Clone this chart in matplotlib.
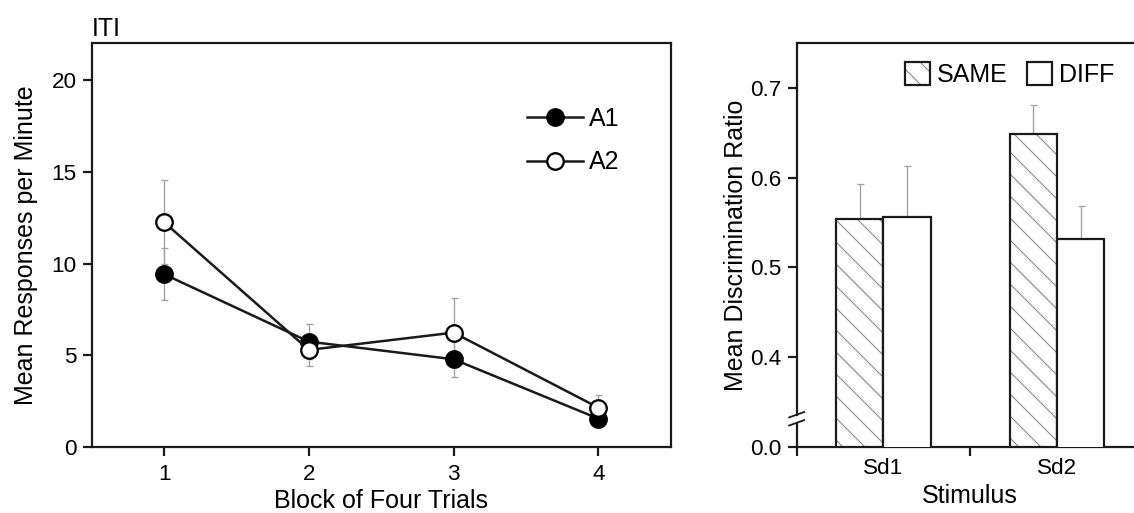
import numpy as np
import matplotlib
matplotlib.use("Agg")
import matplotlib.pyplot as plt
import matplotlib.patches as mpatches
from matplotlib.legend_handler import HandlerTuple

# ---- data ----
blocks = [1, 2, 3, 4]
a1_mean = [9.42, 5.75, 4.79, 1.56]
a1_sem = [1.41, 0.95, 0.98, 0.45]
a2_mean = [12.25, 5.30, 6.24, 2.16]
a2_sem = [2.27, 0.87, 1.88, 0.71]

stimuli = ["Sd1", "Sd2"]
same_ratio = [0.554, 0.649]
same_err = [0.039, 0.032]
diff_ratio = [0.556, 0.532]
diff_err = [0.057, 0.036]

# ---- sizes are worked out in pixels, converted to points ----
W, H, DPI = 1134, 513, 66


def px(v):
    return v * 72.0 / DPI


plt.rcParams["font.family"] = ["Liberation Sans", "DejaVu Sans"]
plt.rcParams["hatch.linewidth"] = px(1.1)

INK = "#1a1a1a"
ERR_C = "#a0a0a0"
HATCH_C = "#8a8a8a"
TICK_FS = px(22.5)
LABEL_FS = px(25)

fig = plt.figure(figsize=(W / DPI, H / DPI), dpi=DPI)


def frac(left, top, right, bottom):
    return [left / W, 1 - bottom / H, (right - left) / W, (bottom - top) / H]


def style_axes(ax):
    for s in ax.spines.values():
        s.set_linewidth(px(2.2))
        s.set_color(INK)
    ax.tick_params(which="both", direction="out", length=px(9), width=px(2.2),
                   color=INK, labelsize=TICK_FS, labelcolor="black", pad=px(6))


# ---- left panel: responses per minute ----
ax1 = fig.add_axes(frac(91.7, 43, 670.7, 447.3))
style_axes(ax1)

ax1.errorbar(blocks, a1_mean, yerr=a1_sem, fmt="none", ecolor=ERR_C,
             elinewidth=px(1.3), capsize=px(3.5), capthick=px(1.3), zorder=1)
ax1.errorbar(blocks, a2_mean, yerr=a2_sem, fmt="none", ecolor=ERR_C,
             elinewidth=px(1.3), capsize=px(3.5), capthick=px(1.3), zorder=1)
l1, = ax1.plot(blocks, a1_mean, "-o", color=INK, lw=px(2.5),
               ms=px(16.5), mfc="black", mec="black", mew=px(2.3), zorder=3)
l2, = ax1.plot(blocks, a2_mean, "-o", color=INK, lw=px(2.5),
               ms=px(16.5), mfc="white", mec="black", mew=px(2.3), zorder=4)

ax1.set_xlim(0.5, 4.5)
ax1.set_ylim(0, 22)
ax1.set_xticks(blocks)
ax1.set_yticks([0, 5, 10, 15, 20])
ax1.tick_params(axis="x", pad=px(8))

ax1.set_xlabel("Block of Four Trials", fontsize=LABEL_FS, va="baseline")
ax1.xaxis.set_label_coords(0.5, (447.3 - 508) / 404.3)
ax1.set_ylabel("Mean Responses per Minute", fontsize=LABEL_FS, va="baseline")
ax1.yaxis.set_label_coords((33 - 91.7) / 579.0, 0.5)
ax1.text(0.0, (447.3 - 36) / 404.3, "ITI", transform=ax1.transAxes,
         fontsize=px(25), va="baseline", ha="left")

ax1.legend([l1, l2], ["A1", "A2"], loc="center left",
           bbox_to_anchor=(527 / W, 1 - 140.5 / H), bbox_transform=fig.transFigure,
           frameon=False, fontsize=LABEL_FS, handlelength=2.24,
           handletextpad=0.24, borderpad=0, borderaxespad=0,
           labelspacing=0.78, numpoints=1)

# ---- right panel: discrimination ratio ----
ax2 = fig.add_axes(frac(796.7, 43, 1143.7, 446.7))
style_axes(ax2)
ax2.spines["right"].set_visible(False)

x = np.arange(len(stimuli))
bw = 0.273
# hatched fill first, black outline on top
ax2.bar(x - bw / 2, same_ratio, bw, facecolor="white", edgecolor=HATCH_C,
        hatch="\\", linewidth=0, zorder=2)
ax2.bar(x - bw / 2, same_ratio, bw, facecolor="none", edgecolor=INK,
        linewidth=px(2.2), zorder=3)
ax2.bar(x + bw / 2, diff_ratio, bw, facecolor="white", edgecolor=INK,
        linewidth=px(2.2), zorder=3)

ax2.errorbar(x - bw / 2, same_ratio, yerr=[np.zeros(2), same_err], fmt="none",
             ecolor=ERR_C, elinewidth=px(1.3), capsize=px(3.5),
             capthick=px(1.3), zorder=1)
ax2.errorbar(x + bw / 2, diff_ratio, yerr=[np.zeros(2), diff_err], fmt="none",
             ecolor=ERR_C, elinewidth=px(1.3), capsize=px(3.5),
             capthick=px(1.3), zorder=1)

ax2.set_xlim(-0.5, 1.5)
ax2.set_ylim(0.3, 0.75)
ax2.set_xticks(x)
ax2.set_xticklabels(stimuli)
ax2.set_xticks([-0.5, 0.5], minor=True)
ax2.tick_params(axis="x", which="major", length=0, pad=px(11))
ax2.set_yticks([0.3, 0.4, 0.5, 0.6, 0.7])
ax2.set_yticklabels(["0.0", "0.4", "0.5", "0.6", "0.7"])

# axis break between 0.0 and 0.4
ypp = 0.45 / 403.7
brk_hi = 0.3 + (446.7 - 414.7) * ypp
brk_lo = 0.3 + (446.7 - 422.8) * ypp
ax2.spines["left"].set_bounds(brk_hi, 0.75)
ytr = ax2.get_yaxis_transform()
ax2.plot([0, 0], [0.3, brk_lo], color=INK, lw=px(2.2), transform=ytr,
         clip_on=False, solid_capstyle="butt")
dx = 7.5 / 347.0
for yc in (brk_hi, brk_lo):
    ax2.plot([-dx, dx], [yc - 2.7 * ypp, yc + 2.7 * ypp], color=INK,
             lw=px(1.8), transform=ytr, clip_on=False)

ax2.set_xlabel("Stimulus", fontsize=LABEL_FS, va="baseline")
ax2.xaxis.set_label_coords((969.3 - 796.7) / 347.0, (446.7 - 502.7) / 403.7)
ax2.set_ylabel("Mean Discrimination Ratio", fontsize=LABEL_FS, va="baseline")
ax2.yaxis.set_label_coords((743 - 796.7) / 347.0, 0.5)

same_h = (mpatches.Patch(facecolor="white", edgecolor=HATCH_C, hatch="\\", lw=0),
          mpatches.Patch(facecolor="none", edgecolor=INK, lw=px(2.2)))
diff_h = mpatches.Patch(facecolor="white", edgecolor=INK, lw=px(2.2))
ax2.legend([same_h, diff_h], ["SAME", "DIFF"], ncol=2, loc="center left",
           bbox_to_anchor=(905 / W, 1 - 74.5 / H), bbox_transform=fig.transFigure,
           frameon=False, fontsize=LABEL_FS, handlelength=1.0, handleheight=1.0,
           handletextpad=0.28, columnspacing=0.76, borderpad=0, borderaxespad=0,
           handler_map={tuple: HandlerTuple(ndivide=1, pad=0)})

fig.savefig("out.png", dpi=DPI)
